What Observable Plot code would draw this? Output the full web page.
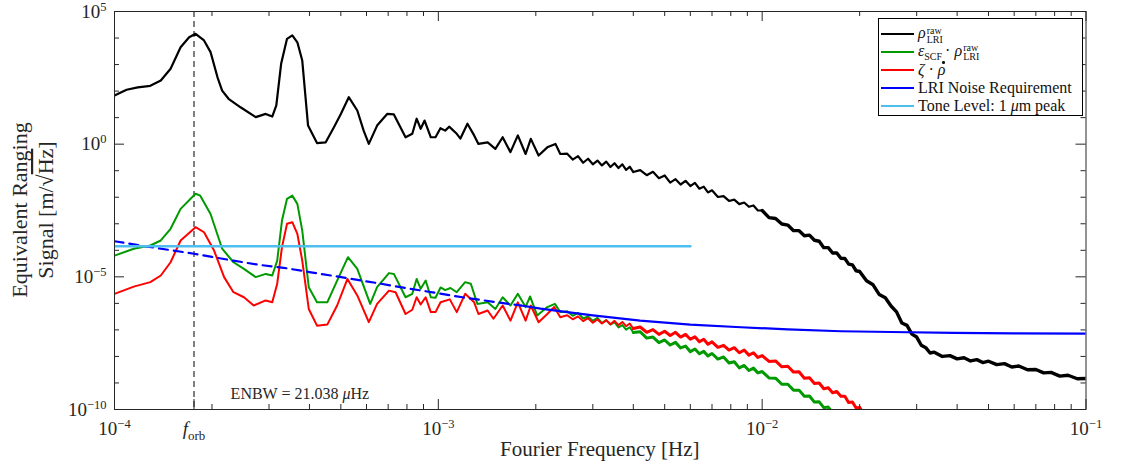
<!DOCTYPE html>
<html><head><meta charset="utf-8">
<script src="https://cdn.jsdelivr.net/npm/d3@7"></script>
<script src="https://cdn.jsdelivr.net/npm/@observablehq/plot@0.6"></script>
<style>
body{margin:0;background:#fff;}
#wrap{position:relative;width:1138px;height:467px;font-family:"Liberation Serif",serif;color:#111;}
#legend{position:absolute;left:878px;top:18px;width:205px;height:98px;border:1px solid #000;background:#fff;box-sizing:border-box;font-size:16px;padding-top:6px;}
.row{display:flex;align-items:center;height:18px;white-space:nowrap;}
.swatch{width:33px;height:0;border-top:2px solid;margin-left:2px;margin-right:4px;flex:none;}
.ss{display:inline-flex;flex-direction:column;font-size:10px;line-height:9px;vertical-align:middle;margin-left:1px;}
.dot{position:relative;display:inline-block;}
.dot::after{content:"";position:absolute;left:4.5px;top:0px;width:2.5px;height:2.5px;border-radius:50%;background:#111;}
sub{font-size:10px;margin-right:3px;}
</style></head><body><div id="wrap"></div>
<script>
// ---- data: [frequency in Hz, log10 of signal in m/sqrt(Hz)] ----
const rhoRaw = [
[1.0e-4,1.83],[1.09e-4,2.05],[1.18e-4,2.14],[1.29e-4,2.20],[1.39e-4,2.40],[1.49e-4,2.84],[1.6e-4,3.65],[1.7e-4,4.03],[1.78e-4,4.16],[1.89e-4,3.91],[1.98e-4,3.47],[2.08e-4,2.52],[2.15e-4,2.02],[2.25e-4,1.71],[2.45e-4,1.39],[2.73e-4,1.02],[2.93e-4,1.14],[3.07e-4,1.04],[3.16e-4,1.46],[3.27e-4,3.03],[3.41e-4,3.97],[3.54e-4,4.10],[3.67e-4,3.84],[3.8e-4,3.15],[3.96e-4,0.70],[4.22e-4,0.04],[4.49e-4,0.07],[4.76e-4,0.64],[5.0e-4,1.14],[5.29e-4,1.77],[5.62e-4,1.27],[5.88e-4,0.51],[6.1e-4,0.01],[6.47e-4,0.70],[6.95e-4,1.14],[7.29e-4,1.12],[7.92e-4,0.26],[8.31e-4,0.39],[8.57e-4,0.96],[8.82e-4,0.58],[9.07e-4,0.89],[9.48e-4,0.26],[9.8e-4,0.26],[1.015e-3,0.60],[1.05e-3,0.51],[1.08e-3,0.66],[1.14e-3,0.39],[1.17e-3,0.21],[1.23e-3,0.77],[1.29e-3,0.33],[1.33e-3,0.01],[1.42e-3,0.07],[1.5e-3,-0.18],[1.58e-3,0.26],[1.67e-3,-0.30],[1.76e-3,0.33],[1.86e-3,-0.37],[1.93e-3,0.20],[2.04e-3,-0.43],[2.17e-3,-0.12],[2.3e-3,0.01],[2.38e-3,-0.37],
[2.5e-3,-0.36],[2.6e-3,-0.58],[2.7e-3,-0.45],[2.8e-3,-0.70],[2.9e-3,-0.55],[3.0e-3,-0.76],[3.1e-3,-0.62],[3.2e-3,-0.80],[3.3e-3,-0.66],[3.4e-3,-0.86],[3.5e-3,-0.72],[3.6e-3,-0.90],[3.7e-3,-0.76],[3.8e-3,-0.97],[3.9e-3,-0.85],[4.0e-3,-1.05],[4.2e-3,-0.98],[4.4e-3,-1.17],[4.6e-3,-1.04],[4.8e-3,-1.28],[5.0e-3,-1.18],[5.2e-3,-1.45],[5.4e-3,-1.32],[5.6e-3,-1.52],[5.8e-3,-1.38],[6.0e-3,-1.58],[6.2e-3,-1.46],[6.4e-3,-1.68],[6.6e-3,-1.60],[6.8e-3,-1.82],[7.0e-3,-1.74],[7.3e-3,-1.99],[7.6e-3,-1.96],[7.9e-3,-2.14],[8.2e-3,-2.09],[8.5e-3,-2.26],[8.8e-3,-2.20],[9.1e-3,-2.36],[9.4e-3,-2.31],[9.7e-3,-2.50],
[1.0e-2,-2.50],[1.05e-2,-2.77],[1.10e-2,-2.80],[1.15e-2,-3.01],[1.20e-2,-3.05],[1.25e-2,-3.26],[1.30e-2,-3.26],[1.35e-2,-3.45],[1.40e-2,-3.43],[1.45e-2,-3.62],[1.50e-2,-3.66],[1.55e-2,-3.90],[1.60e-2,-3.90],[1.65e-2,-4.10],[1.70e-2,-4.10],[1.75e-2,-4.30],[1.80e-2,-4.31],[1.85e-2,-4.52],[1.90e-2,-4.55],[1.95e-2,-4.77],[2.00e-2,-4.80],[2.10e-2,-5.15],[2.20e-2,-5.30],[2.30e-2,-5.67],[2.40e-2,-5.79],[2.50e-2,-6.10],[2.60e-2,-6.32],[2.70e-2,-6.74],[2.80e-2,-6.83],[2.90e-2,-7.16],[3.00e-2,-7.27],[3.10e-2,-7.58],[3.20e-2,-7.67],[3.30e-2,-7.87],[3.40e-2,-7.84],[3.60e-2,-8.00],[3.80e-2,-7.97],[4.00e-2,-8.09],[4.20e-2,-8.05],[4.40e-2,-8.17],[4.60e-2,-8.12],[4.80e-2,-8.23],[5.00e-2,-8.18],[5.30e-2,-8.31],[5.60e-2,-8.27],[5.90e-2,-8.40],[6.20e-2,-8.36],[6.60e-2,-8.50],[7.00e-2,-8.49],[7.40e-2,-8.62],[7.80e-2,-8.60],[8.30e-2,-8.74],[8.80e-2,-8.71],[9.40e-2,-8.84],[1.0e-1,-8.83]
];
const epsScf = [
[1.0e-4,-4.20],[1.147e-4,-3.94],[1.29e-4,-3.82],[1.39e-4,-3.63],[1.49e-4,-3.19],[1.6e-4,-2.44],[1.78e-4,-1.87],[1.84e-4,-1.94],[1.98e-4,-2.63],[2.15e-4,-3.94],[2.33e-4,-4.45],[2.51e-4,-4.70],[2.73e-4,-5.01],[2.93e-4,-4.89],[3.07e-4,-4.95],[3.18e-4,-4.39],[3.29e-4,-2.88],[3.41e-4,-2.06],[3.54e-4,-1.94],[3.67e-4,-2.25],[3.8e-4,-3.26],[3.98e-4,-5.39],[4.22e-4,-5.96],[4.54e-4,-5.96],[4.87e-4,-5.14],[5.26e-4,-4.26],[5.62e-4,-4.70],[6.16e-4,-6.02],[6.47e-4,-5.39],[7.04e-4,-4.86],[7.29e-4,-4.89],[7.92e-4,-5.77],[8.31e-4,-5.64],[8.57e-4,-5.08],[8.82e-4,-5.45],[9.14e-4,-5.14],[9.48e-4,-5.77],[9.8e-4,-5.79],[1.016e-3,-5.40],[1.05e-3,-5.50],[1.09e-3,-5.42],[1.14e-3,-5.58],[1.21e-3,-5.20],[1.26e-3,-5.26],[1.32e-3,-6.02],[1.42e-3,-5.96],[1.5e-3,-6.21],[1.58e-3,-5.77],[1.67e-3,-6.08],[1.76e-3,-5.64],[1.86e-3,-6.14],[1.92e-3,-5.74],[2.02e-3,-6.46],[2.17e-3,-6.14],[2.29e-3,-6.02],[2.38e-3,-6.33],
[2.5e-3,-6.30],[2.6e-3,-6.47],[2.7e-3,-6.36],[2.8e-3,-6.57],[2.9e-3,-6.49],[3.0e-3,-6.66],[3.1e-3,-6.55],[3.2e-3,-6.74],[3.3e-3,-6.63],[3.4e-3,-6.80],[3.5e-3,-6.71],[3.6e-3,-6.91],[3.7e-3,-6.82],[3.8e-3,-6.99],[3.9e-3,-6.90],[4.0e-3,-7.10],[4.2e-3,-7.07],[4.4e-3,-7.31],[4.6e-3,-7.27],[4.8e-3,-7.48],[5.0e-3,-7.38],[5.2e-3,-7.57],[5.4e-3,-7.47],[5.6e-3,-7.68],[5.8e-3,-7.61],[6.0e-3,-7.82],[6.2e-3,-7.72],[6.4e-3,-7.90],[6.6e-3,-7.81],[6.8e-3,-7.98],[7.0e-3,-7.89],[7.3e-3,-8.10],[7.6e-3,-8.02],[7.9e-3,-8.25],[8.2e-3,-8.20],[8.5e-3,-8.43],[8.8e-3,-8.34],[9.1e-3,-8.53],[9.4e-3,-8.44],[9.7e-3,-8.62],
[1.0e-2,-8.57],[1.05e-2,-8.81],[1.10e-2,-8.82],[1.15e-2,-9.05],[1.20e-2,-9.05],[1.25e-2,-9.27],[1.30e-2,-9.27],[1.35e-2,-9.50],[1.40e-2,-9.49],[1.45e-2,-9.72],[1.50e-2,-9.71],[1.55e-2,-9.93],[1.60e-2,-9.91],[1.65e-2,-10.12]
];
const zetaRhoDot = [
[1.0e-4,-5.64],[1.147e-4,-5.37],[1.29e-4,-5.20],[1.39e-4,-4.95],[1.49e-4,-4.45],[1.6e-4,-3.63],[1.78e-4,-3.13],[1.89e-4,-3.32],[2.03e-4,-4.01],[2.18e-4,-5.01],[2.33e-4,-5.58],[2.51e-4,-5.77],[2.69e-4,-6.08],[2.93e-4,-5.89],[3.07e-4,-5.96],[3.18e-4,-5.26],[3.29e-4,-3.88],[3.41e-4,-3.00],[3.54e-4,-2.94],[3.67e-4,-3.38],[3.8e-4,-4.39],[3.98e-4,-6.21],[4.22e-4,-6.84],[4.54e-4,-6.80],[4.87e-4,-6.08],[5.24e-4,-5.08],[5.62e-4,-5.70],[6.1e-4,-6.71],[6.47e-4,-6.02],[7.04e-4,-5.52],[7.38e-4,-5.58],[7.92e-4,-6.40],[8.31e-4,-6.24],[8.57e-4,-5.77],[8.82e-4,-6.04],[9.14e-4,-5.77],[9.48e-4,-6.33],[9.8e-4,-6.33],[1.016e-3,-5.96],[1.085e-3,-5.85],[1.14e-3,-6.33],[1.21e-3,-5.64],[1.29e-3,-5.96],[1.33e-3,-6.40],[1.42e-3,-6.27],[1.48e-3,-6.58],[1.58e-3,-6.08],[1.67e-3,-6.65],[1.76e-3,-5.96],[1.86e-3,-6.65],[1.93e-3,-6.08],[2.04e-3,-6.71],[2.17e-3,-6.40],[2.28e-3,-6.14],[2.38e-3,-6.52],
[2.5e-3,-6.45],[2.6e-3,-6.60],[2.7e-3,-6.49],[2.8e-3,-6.67],[2.9e-3,-6.56],[3.0e-3,-6.73],[3.1e-3,-6.61],[3.2e-3,-6.76],[3.3e-3,-6.64],[3.4e-3,-6.79],[3.5e-3,-6.66],[3.6e-3,-6.82],[3.7e-3,-6.70],[3.8e-3,-6.86],[3.9e-3,-6.76],[4.0e-3,-6.95],[4.2e-3,-6.89],[4.4e-3,-7.09],[4.6e-3,-6.99],[4.8e-3,-7.17],[5.0e-3,-7.05],[5.2e-3,-7.21],[5.4e-3,-7.09],[5.6e-3,-7.27],[5.8e-3,-7.17],[6.0e-3,-7.35],[6.2e-3,-7.26],[6.4e-3,-7.45],[6.6e-3,-7.35],[6.8e-3,-7.54],[7.0e-3,-7.45],[7.3e-3,-7.66],[7.6e-3,-7.58],[7.9e-3,-7.76],[8.2e-3,-7.67],[8.5e-3,-7.86],[8.8e-3,-7.76],[9.1e-3,-7.95],[9.4e-3,-7.86],[9.7e-3,-8.04],
[1.0e-2,-7.97],[1.05e-2,-8.19],[1.10e-2,-8.17],[1.15e-2,-8.39],[1.20e-2,-8.37],[1.25e-2,-8.59],[1.30e-2,-8.58],[1.35e-2,-8.82],[1.40e-2,-8.80],[1.45e-2,-9.02],[1.50e-2,-9.00],[1.55e-2,-9.22],[1.60e-2,-9.18],[1.65e-2,-9.37],[1.70e-2,-9.32],[1.75e-2,-9.50],[1.80e-2,-9.50],[1.85e-2,-9.74],[1.90e-2,-9.72],[1.95e-2,-9.94],[2.00e-2,-9.92],[2.05e-2,-10.14]
];
const noiseRequirement = [
[1.0e-4,-3.66],[1.25e-4,-3.85],[1.5e-4,-4.00],[1.76e-4,-4.13],[2.0e-4,-4.25],[2.33e-4,-4.39],[2.8e-4,-4.55],[3.33e-4,-4.66],[4.0e-4,-4.82],[5.24e-4,-5.05],[6.5e-4,-5.24],[8.0e-4,-5.43],[1.0e-3,-5.62],[1.2e-3,-5.78],[1.5e-3,-5.95],[1.8e-3,-6.08],[2.07e-3,-6.20],[2.5e-3,-6.33],[3.0e-3,-6.45],[4.2e-3,-6.65],[6.0e-3,-6.80],[8.6e-3,-6.90],[1.2e-2,-6.98],[1.75e-2,-7.05],[2.5e-2,-7.08],[3.9e-2,-7.11],[6.0e-2,-7.13],[1.0e-1,-7.14]
];
const toneLevel = [[1.0e-4,-3.85],[6.0e-3,-3.85]];
const requirementDashedBelow = 1.8e-3;   // requirement drawn dashed below this frequency

const seriesKeys   = ["rho","eps","zeta","req","tone"];
const seriesColors = ["#000000","#009a00","#ff0000","#0000ff","#4dbeee"];
const seriesLabels = [
  '<i>ρ</i><span class="ss"><span>raw</span><span>LRI</span></span>',
  '<i>ε</i><sub>SCF</sub>·&nbsp;<i>ρ</i><span class="ss"><span>raw</span><span>LRI</span></span>',
  '<i>ζ</i>&nbsp;·&nbsp;<i class="dot">ρ</i>',
  'LRI Noise Requirement',
  'Tone Level: 1&nbsp;<i>μ</i>m peak'
];

const fOrb = 1.76e-4;
const xLabelTicks = [1e-4, fOrb, 1e-3, 1e-2, 1e-1];
const xLabelText  = ["10^-4", "f_orb", "10^-3", "10^-2", "10^-1"];
const xDecades = [1e-4, 1e-3, 1e-2, 1e-1];
const xMinor = [2,3,4,5,6,7,8,9].flatMap(m => [1e-4,1e-3,1e-2].map(d => m*d));
const yLabelTicks = [1e-10, 1e-5, 1e0, 1e5];
const yLabelText  = ["10^-10", "10^-5", "10^0", "10^5"];
const yMinor = [1e-9,1e-8,1e-7,1e-6,1e-4,1e-3,1e-2,1e-1,1e1,1e2,1e3,1e4];
const enbwNote = {f: 3.75e-4, text: "ENBW = 21.038 ", unit: "μ", rest: "Hz"};

const xTitle = "Fourier Frequency [Hz]";
const yTitle1 = "Equivalent Ranging";

// ---- layout ----
const width = 1138, height = 467;
const mL = 114, mR = 52.5, mT = 11, mB = 58;
const FH = height - mT - mB, FW = width - mL - mR;
const axisColor = "#262626";

const toRows = (arr, key) => arr.map(([f, lv]) => ({f, v: Math.pow(10, lv), key}));
const rows = {
  rho: toRows(rhoRaw, "rho"), eps: toRows(epsScf, "eps"), zeta: toRows(zetaRhoDot, "zeta"),
  req: toRows(noiseRequirement, "req"), tone: toRows(toneLevel, "tone")
};
const col = k => seriesColors[seriesKeys.indexOf(k)];
// dense measurement noise at high frequency makes the trace look thicker there
const traced = (k, split, wLow, wHigh) => [
  Plot.line(rows[k].filter(d => d.f <= split), {x: "f", y: "v", stroke: col(k), strokeWidth: wLow, clip: true}),
  Plot.line(rows[k].filter(d => d.f >= split), {x: "f", y: "v", stroke: col(k), strokeWidth: wHigh, clip: true})
];

const plot = Plot.plot({
  width, height, marginLeft: mL, marginRight: mR, marginTop: mT, marginBottom: mB,
  style: {fontFamily: "Liberation Serif", fontSize: "19px", color: axisColor, background: "white", overflow: "visible"},
  x: {type: "log", domain: [1e-4, 1e-1]},
  y: {type: "log", domain: [1e-10, 1e5]},
  marks: [
    Plot.ruleX([fOrb], {x: d => d, stroke: "#000", strokeWidth: 1, strokeDasharray: "6,4"}),
    ...traced("rho", 1e-2, 2.2, 3.4),
    ...traced("eps", 4e-3, 2, 3),
    ...traced("zeta", 4e-3, 2, 3),
    Plot.line(rows.req.filter(d => d.f <= requirementDashedBelow), {x: "f", y: "v", stroke: col("req"), strokeWidth: 2.2, strokeDasharray: "9,6", clip: true}),
    Plot.line(rows.req.filter(d => d.f >= requirementDashedBelow), {x: "f", y: "v", stroke: col("req"), strokeWidth: 2.2, clip: true}),
    Plot.line(rows.tone, {x: "f", y: "v", stroke: col("tone"), strokeWidth: 2.5, clip: true}),
    Plot.frame({stroke: axisColor, strokeWidth: 1}),
    // inward ticks on all four sides
    Plot.tickX([...xDecades, fOrb], {x: d => d, insetTop: FH - 10, stroke: axisColor}),
    Plot.tickX(xDecades, {x: d => d, insetBottom: FH - 10, stroke: axisColor}),
    Plot.tickX(xMinor, {x: d => d, insetTop: FH - 5, stroke: axisColor}),
    Plot.tickX(xMinor, {x: d => d, insetBottom: FH - 5, stroke: axisColor}),
    Plot.tickY(yLabelTicks, {y: d => d, insetRight: FW - 10, stroke: axisColor}),
    Plot.tickY(yLabelTicks, {y: d => d, insetLeft: FW - 10, stroke: axisColor}),
    Plot.tickY(yMinor, {y: d => d, insetRight: FW - 5, stroke: axisColor}),
    Plot.tickY(yMinor, {y: d => d, insetLeft: FW - 5, stroke: axisColor}),
    Plot.axisX({ticks: xLabelTicks, tickFormat: d => xLabelText[xLabelTicks.indexOf(d)], tickSize: 0, tickPadding: 12, label: null}),
    Plot.axisY({ticks: yLabelTicks, tickFormat: d => yLabelText[yLabelTicks.indexOf(d)], tickSize: 0, tickPadding: 8, label: null})
  ]
});

const svg = d3.select(plot);
function richLabel(el, s) {
  const t = d3.select(el);
  let m;
  if ((m = s.match(/^10\^(.+)$/))) {
    t.text(null);
    t.append("tspan").text("10");
    t.append("tspan").attr("dy", -7).attr("font-size", "12.5px").text(m[1].replace("-", "−"));
  } else if ((m = s.match(/^(.+)_(.+)$/))) {
    t.text(null);
    t.append("tspan").attr("font-style", "italic").text(m[1]);
    t.append("tspan").attr("dy", 5).attr("font-size", "13px").text(m[2]);
  }
}
svg.selectAll('g[aria-label="x-axis tick label"] text, g[aria-label="y-axis tick label"] text')
  .each(function () { richLabel(this, this.textContent); });

const cy = (mT + height - mB) / 2;
svg.append("text").attr("transform", `translate(27,${cy}) rotate(-90)`).attr("text-anchor", "middle")
  .attr("font-size", 22).attr("fill", axisColor).text(yTitle1);
const t2 = svg.append("text").attr("transform", `translate(53,${cy}) rotate(-90)`).attr("text-anchor", "middle")
  .attr("font-size", 22).attr("fill", axisColor);
t2.append("tspan").text("Signal [m/√");
t2.append("tspan").attr("text-decoration", "overline").text("Hz");
t2.append("tspan").text("]");

svg.append("text").attr("x", mL + FW / 2).attr("y", 456).attr("text-anchor", "middle")
  .attr("font-size", 21).attr("fill", axisColor).text(xTitle);

const xs = plot.scale("x");
const en = svg.append("text").attr("x", xs.apply(enbwNote.f)).attr("y", height - mB - 10)
  .attr("text-anchor", "middle").attr("font-size", 16).attr("fill", axisColor);
en.append("tspan").text(enbwNote.text);
en.append("tspan").attr("font-style", "italic").text(enbwNote.unit);
en.append("tspan").text(enbwNote.rest);

const wrap = document.getElementById("wrap");
wrap.appendChild(plot);
const legend = document.createElement("div");
legend.id = "legend";
legend.innerHTML = seriesKeys.map((k, i) =>
  `<div class="row"><span class="swatch" style="border-color:${seriesColors[i]}"></span><span>${seriesLabels[i]}</span></div>`).join("");
wrap.appendChild(legend);
</script></body></html>
